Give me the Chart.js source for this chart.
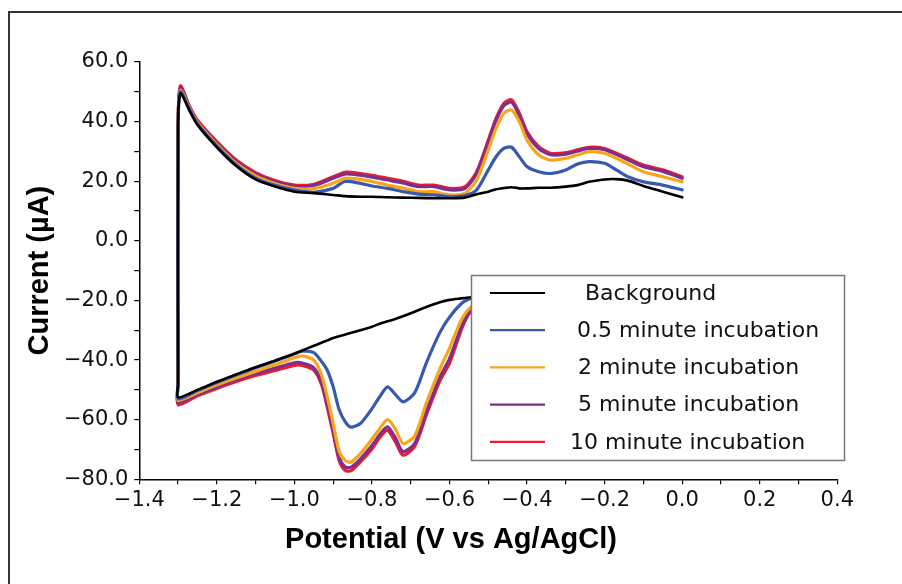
<!DOCTYPE html>
<html>
<head>
<meta charset="utf-8">
<script src="https://cdn.jsdelivr.net/npm/chart.js@4.4.1/dist/chart.umd.min.js"></script>
<style>
  html, body { margin: 0; padding: 0; background: #fff; overflow: hidden; }
</style>
</head>
<body>
<canvas id="cv-chart" width="902" height="584"></canvas>
<script>
// Cathodic sweep, 0.0 V down to -1.3 V (V vs Ag/AgCl)
const lowerPotential = [0.0, -0.1, -0.2, -0.3, -0.4, -0.5, -0.53, -0.55, -0.57, -0.6, -0.625, -0.66, -0.69, -0.72, -0.74, -0.76, -0.78, -0.8, -0.83, -0.855, -0.87, -0.885, -0.9, -0.915, -0.93, -0.95, -0.98, -1.0, -1.05, -1.1, -1.15, -1.2, -1.25, -1.3];
// Anodic sweep, -1.3 V back up to 0.0 V (first two points are the vertical switch)
const upperPotential = [-1.3, -1.3, -1.294, -1.27, -1.25, -1.2, -1.15, -1.1, -1.05, -1.0, -0.95, -0.9, -0.87, -0.83, -0.8, -0.76, -0.72, -0.68, -0.64, -0.6, -0.56, -0.53, -0.5, -0.48, -0.46, -0.44, -0.42, -0.4, -0.37, -0.34, -0.3, -0.27, -0.24, -0.2, -0.17, -0.14, -0.1, -0.05, 0.0];

const seriesLabels = ['Background', '0.5 minute incubation', '2 minute incubation', '5 minute incubation', '10 minute incubation'];

// Current (µA)
const backgroundLower = [-13.5, -14.5, -15.5, -16.5, -17.5, -18.5, -18.7, -19.0, -19.3, -19.8, -20.6, -22.2, -23.8, -25.3, -26.2, -27.0, -27.8, -28.8, -30.0, -30.9, -31.5, -32.0, -32.6, -33.4, -34.2, -35.2, -36.8, -37.9, -40.2, -42.4, -44.8, -47.3, -50.0, -52.5];
const backgroundUpper = [-48, 38, 49.5, 43.5, 38.9, 31.4, 25.1, 20.6, 18.2, 16.5, 16.0, 15.4, 15.0, 14.8, 14.8, 14.6, 14.5, 14.4, 14.3, 14.3, 14.5, 15.6, 16.5, 17.3, 17.7, 18.0, 17.6, 17.6, 17.8, 17.8, 18.2, 18.7, 19.8, 20.6, 20.7, 20.2, 18.4, 16.5, 14.6];

const halfMinLower = [-14.0, -15.0, -16.0, -17.0, -17.6, -18.2, -18.7, -19.5, -21.1, -25.6, -30.8, -41.0, -51.0, -54.0, -51.5, -49.0, -52.3, -56.3, -61.3, -62.5, -60.5, -56.5, -49.0, -43.5, -40.5, -37.5, -37.0, -37.9, -40.3, -42.6, -45.0, -47.5, -50.2, -53.0];
const halfMinUpper = [-48, 38, 50.0, 44.0, 39.3, 31.8, 25.5, 21.0, 18.6, 17.0, 16.3, 17.6, 19.9, 19.3, 18.4, 17.6, 16.5, 15.7, 15.4, 14.8, 15.2, 17.1, 23.8, 28.2, 31.0, 31.4, 28.2, 24.9, 23.2, 22.6, 23.8, 25.8, 26.6, 26.0, 23.8, 21.5, 19.8, 18.7, 17.1];

const twoMinLower = [-14.5, -15.5, -16.5, -17.5, -18.3, -19.5, -21.0, -22.8, -26.6, -36.0, -43.0, -54.5, -65.5, -68.0, -63.0, -60.0, -63.0, -66.5, -71.4, -74.3, -73.6, -70.5, -61.3, -52.5, -45.0, -40.0, -38.6, -39.2, -41.6, -43.8, -46.0, -48.3, -51.0, -53.5];
const twoMinUpper = [-48, 38, 50.5, 44.3, 39.7, 32.3, 26.0, 21.8, 19.2, 17.6, 17.5, 19.3, 21.0, 20.6, 19.9, 18.7, 17.7, 16.5, 16.5, 15.4, 16.0, 20.4, 30.5, 37.7, 42.8, 43.9, 40.0, 33.8, 28.8, 27.1, 27.7, 28.8, 29.9, 29.4, 27.7, 25.8, 23.2, 21.5, 19.8];

const fiveMinLower = [-14.8, -15.8, -16.8, -17.8, -18.7, -20.2, -22.0, -24.0, -29.0, -39.5, -45.8, -57.3, -68.0, -70.7, -66.0, -62.4, -65.0, -68.7, -73.2, -76.0, -75.8, -72.5, -63.5, -55.0, -47.3, -42.6, -41.0, -40.9, -42.7, -44.5, -46.6, -49.0, -51.5, -54.3];
const fiveMinUpper = [-48, 38, 51.3, 44.5, 40.0, 32.8, 26.6, 22.4, 19.8, 18.3, 18.6, 21.0, 22.4, 22.0, 21.4, 20.4, 19.4, 18.2, 18.2, 17.1, 17.6, 22.6, 33.0, 40.3, 45.3, 46.5, 42.0, 35.9, 31.0, 28.9, 29.1, 30.1, 31.0, 30.6, 29.0, 27.2, 24.9, 23.3, 21.0];

const tenMinLower = [-15.0, -16.0, -17.0, -18.0, -19.0, -20.5, -22.5, -24.5, -30.0, -41.0, -47.0, -58.5, -69.0, -71.9, -67.3, -63.6, -66.0, -69.8, -74.2, -77.2, -76.9, -73.5, -64.6, -56.0, -48.3, -43.4, -41.8, -41.8, -43.5, -45.2, -47.2, -49.5, -52.0, -55.0];
const tenMinUpper = [-48, 38, 52.0, 45.0, 40.5, 33.3, 27.1, 22.9, 20.2, 18.7, 19.0, 21.5, 23.0, 22.6, 22.0, 21.0, 20.0, 18.7, 18.7, 17.6, 18.2, 23.2, 33.8, 41.1, 46.1, 47.3, 42.8, 36.6, 31.6, 29.4, 29.6, 30.5, 31.4, 31.0, 29.4, 27.7, 25.4, 23.8, 21.5];

const seriesColors = ['#000000', '#3759b0', '#f9a51a', '#7d2f8f', '#ec1c2a'];

// one CV loop: cathodic sweep followed by the anodic sweep
function toLoop(lower, upper) {
    const pts = lowerPotential.map((x, i) => ({ x: x, y: lower[i] }));
    return pts.concat(upperPotential.map((x, i) => ({ x: x, y: upper[i] })));
}

const loops = [
    toLoop(backgroundLower, backgroundUpper),
    toLoop(halfMinLower, halfMinUpper),
    toLoop(twoMinLower, twoMinUpper),
    toLoop(fiveMinLower, fiveMinUpper),
    toLoop(tenMinLower, tenMinUpper)
];

function fmt(v) {
    if (Math.abs(v) < 1e-9) return '0.0';
    return v.toFixed(1).replace('-', '\u2212');
}

// outer frame + x title + boxed legend inside the plot
const decorations = {
    id: 'decorations',
    beforeDraw(chart) {
        const ctx = chart.ctx;
        ctx.save();
        ctx.strokeStyle = '#333';
        ctx.lineWidth = 2;
        ctx.strokeRect(9, 12, 1200, 1200);
        ctx.restore();
    },
    afterDatasetsDraw(chart, args, opts) {
        const ctx = chart.ctx;
        ctx.save();
        ctx.fillStyle = '#fff';
        ctx.fillRect(471.5, 275.5, 373, 185);
        ctx.strokeStyle = '#777';
        ctx.lineWidth = 1.5;
        ctx.strokeRect(471.5, 275.5, 373, 185);

        ctx.font = '22px "DejaVu Sans"';
        ctx.textBaseline = 'middle';
        ctx.textAlign = 'left';
        chart.data.datasets.forEach((ds, i) => {
            const y = 293 + i * 37.2;
            ctx.strokeStyle = ds.borderColor;
            ctx.lineWidth = 2.2;
            ctx.beginPath();
            ctx.moveTo(490, y);
            ctx.lineTo(545, y);
            ctx.stroke();
            ctx.fillStyle = '#111';
            ctx.fillText(ds.label, opts.textX[i], y + 1);
        });
        ctx.restore();
    },
    afterDraw(chart) {
        const ctx = chart.ctx;
        ctx.save();
        ctx.font = 'bold 29px "Liberation Sans", Arial, sans-serif';
        ctx.fillStyle = '#000';
        ctx.textAlign = 'center';
        ctx.textBaseline = 'middle';
        ctx.fillText('Potential (V vs Ag/AgCl)', 451, 540);
        ctx.restore();
    }
};

const tickFont = { family: '"DejaVu Sans", Verdana, sans-serif', size: 21 };

new Chart(document.getElementById('cv-chart'), {
    type: 'scatter',
    data: {
        datasets: loops.map((pts, i) => ({
            label: seriesLabels[i],
            data: pts,
            showLine: true,
            borderColor: seriesColors[i],
            backgroundColor: seriesColors[i],
            borderWidth: i === 0 ? 2.6 : 3.2,
            pointRadius: 0,
            tension: 0.25,
            borderJoinStyle: 'round',
            borderCapStyle: 'round'
        }))
    },
    options: {
        responsive: false,
        animation: false,
        layout: { padding: { left: 0, top: 62, right: 64.7, bottom: 0 } },
        plugins: {
            legend: { display: false },
            tooltip: { enabled: false },
            decorations: { textX: [585, 577, 578, 578, 570] }
        },
        scales: {
            x: {
                type: 'linear',
                min: -1.4,
                max: 0.4,
                border: { color: '#000', width: 1.5 },
                grid: { drawOnChartArea: false, drawTicks: true, tickLength: 5, color: '#000', lineWidth: 1.2 },
                ticks: {
                    stepSize: 0.1,
                    autoSkip: false,
                    maxRotation: 0,
                    padding: 4,
                    color: '#111',
                    font: tickFont,
                    callback: (v) => (Math.round(v * 10) % 2 === 0 ? fmt(v) : '')
                },
                afterFit: (scale) => { scale.height = 104.7; }
            },
            y: {
                type: 'linear',
                min: -80,
                max: 60,
                border: { color: '#000', width: 1.5 },
                grid: { drawOnChartArea: false, drawTicks: true, tickLength: 5, color: '#000', lineWidth: 1.2 },
                ticks: {
                    stepSize: 10,
                    autoSkip: false,
                    padding: 6,
                    color: '#111',
                    font: tickFont,
                    callback: (v) => (v % 20 === 0 ? fmt(v) : '')
                },
                title: {
                    display: true,
                    text: 'Current (\u00b5A)',
                    color: '#000',
                    font: { family: '"Liberation Sans", Arial, sans-serif', size: 29, weight: 'bold' },
                    padding: { top: 22.6, bottom: 0 }
                },
                afterFit: (scale) => { scale.width = 139.3; }
            }
        }
    },
    plugins: [decorations]
});
</script>
</body>
</html>
